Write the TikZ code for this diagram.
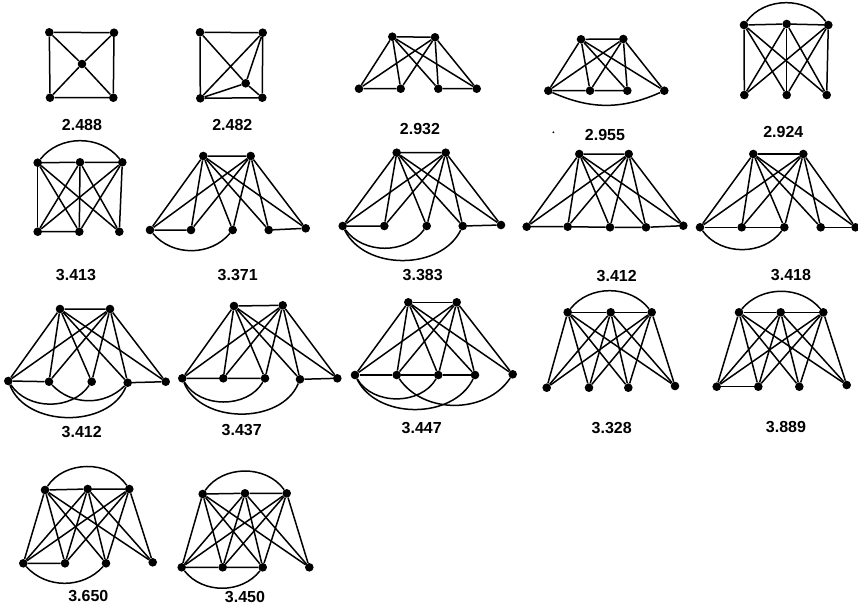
\documentclass[tikz,border=0pt]{standalone}
\usepackage{fontspec}
\setmainfont{Liberation Sans}
\begin{document}
\begin{tikzpicture}[x=1pt,y=1pt,
  v/.style={circle,fill=black,inner sep=0pt,minimum size=8.6pt},
  ed/.style={line width=1.5pt},
  lbl/.style={font=\fontsize{16}{18}\selectfont\bfseries,inner sep=0pt}]
\useasboundingbox (0,-611) rectangle (858,0);
% ---------- G1 2.488
\node[v] (a1) at (49.3,-32.3) {};
\node[v] (a2) at (114,-32.7) {};
\node[v] (a3) at (82,-64) {};
\node[v] (a4) at (50,-97.7) {};
\node[v] (a5) at (113.3,-97.7) {};
\draw[ed] (a1)--(a2) (a2)--(a5) (a5)--(a4) (a4)--(a1) (a1)--(a3) (a3)--(a5) (a2)--(a3) (a3)--(a4);
\node[lbl] (la) at (82,-125) {2.488};
% ---------- G2 2.482
\node[v] (b1) at (200,-32.3) {};
\node[v] (b2) at (262.7,-32.7) {};
\node[v] (b3) at (200.3,-98.3) {};
\node[v] (b4) at (262.3,-97.7) {};
\node[v] (b5) at (245.7,-83.3) {};
\draw[ed] (b1)--(b2) (b1)--(b3) (b2)--(b4) (b3)--(b4) (b1)--(b5) (b5)--(b4) (b2)--(b5) (b2)--(b3) (b3)--(b5);
\node[lbl] (lb) at (232.3,-125) {2.482};
% ---------- G3 2.932
\node[v] (c1) at (392.3,-36.7) {};
\node[v] (c2) at (435,-37.3) {};
\node[v] (cb1) at (359,-88.7) {};
\node[v] (cb2) at (400.7,-88.7) {};
\node[v] (cb3) at (438.3,-88.7) {};
\node[v] (cb4) at (476.7,-88.7) {};
\draw[ed] (c1)--(c2) (cb1)--(cb2) (cb3)--(cb4);
\foreach \t in {c1,c2} \foreach \b in {cb1,cb2,cb3,cb4} \draw[ed] (\t)--(\b);
\node[lbl] (lc) at (420,-129.3) {2.932};
% ---------- G4 2.955
\node[v] (d1) at (581,-39.3) {};
\node[v] (d2) at (623.3,-39) {};
\node[v] (db1) at (548.3,-90.7) {};
\node[v] (db2) at (590,-90.7) {};
\node[v] (db3) at (627.3,-90.7) {};
\node[v] (db4) at (664.3,-90.7) {};
\draw[ed] (d1)--(d2) (db1)--(db2) (db2)--(db3);
\draw[ed] (db1) to[bend right=24] (db4);
\foreach \t in {d1,d2} \foreach \b in {db1,db2,db3,db4} \draw[ed] (\t)--(\b);
\node[lbl] (ld) at (605,-135) {2.955};
\fill (553.3,-132.3) circle (1pt);
% ---------- G5 2.924
\node[v] (e1) at (744,-25) {};
\node[v] (e2) at (786.7,-24) {};
\node[v] (e3) at (828.3,-25) {};
\node[v] (eb1) at (744.3,-95) {};
\node[v] (eb2) at (786.7,-95) {};
\node[v] (eb3) at (826.7,-95) {};
\draw[ed] (e1)--(e2) (e2)--(e3);
\draw[ed] (e1) to[bend left=54] (e3);
\foreach \t in {e1,e2,e3} \foreach \b in {eb1,eb2,eb3} \draw[ed] (\t)--(\b);
\node[lbl] (le) at (783.3,-131.7) {2.924};
% ---------- G6 3.413
\node[v] (f1) at (37.7,-162.7) {};
\node[v] (f2) at (80,-162.3) {};
\node[v] (f3) at (122.3,-162.3) {};
\node[v] (fb1) at (37.7,-231.7) {};
\node[v] (fb2) at (79.3,-231.7) {};
\node[v] (fb3) at (119.3,-231.7) {};
\draw[ed] (f1)--(f2) (f2)--(f3) (fb1)--(fb2);
\draw[ed] (f1) to[bend left=52] (f3);
\foreach \t in {f1,f2,f3} \foreach \b in {fb1,fb2,fb3} \draw[ed] (\t)--(\b);
\node[lbl] (lf) at (76,-275) {3.413};
% ---------- G7 3.371
\node[v] (g1) at (203.3,-156) {};
\node[v] (g2) at (250.7,-156) {};
\node[v] (gb1) at (150,-230) {};
\node[v] (gb2) at (191,-230) {};
\node[v] (gb3) at (232.7,-230) {};
\node[v] (gb4) at (268.7,-230) {};
\node[v] (gb5) at (305.7,-228.3) {};
\draw[ed] (g1)--(g2) (gb1)--(gb2) (gb4)--(gb5);
\draw[ed] (gb1) to[bend right=50] (gb3);
\foreach \t in {g1,g2} \foreach \b in {gb1,gb2,gb3,gb4,gb5} \draw[ed] (\t)--(\b);
\node[lbl] (lg) at (237.7,-275) {3.371};
% ---------- G8 3.383
\node[v] (h1) at (396.7,-152.7) {};
\node[v] (h2) at (445.7,-152.7) {};
\node[v] (hb1) at (342.7,-226) {};
\node[v] (hb2) at (384.3,-226) {};
\node[v] (hb3) at (426.7,-226) {};
\node[v] (hb4) at (462.7,-226) {};
\node[v] (hb5) at (501,-225) {};
\draw[ed] (h1)--(h2) (hb1)--(hb2) (hb4)--(hb5);
\draw[ed] (hb1) to[bend right=54] (hb3);
\draw[ed] (hb1) to[bend right=64] (hb4);
\foreach \t in {h1,h2} \foreach \b in {hb1,hb2,hb3,hb4,hb5} \draw[ed] (\t)--(\b);
\node[lbl] (lh) at (422.7,-275) {3.383};
% ---------- G9 3.412
\node[v] (i1) at (579.3,-154) {};
\node[v] (i2) at (628.7,-154) {};
\node[v] (ib1) at (526.7,-226.7) {};
\node[v] (ib2) at (567.7,-226.7) {};
\node[v] (ib3) at (610,-227.3) {};
\node[v] (ib4) at (646,-227.3) {};
\node[v] (ib5) at (683.3,-225.7) {};
\draw[ed] (i1)--(i2) (ib1)--(ib2) (ib2)--(ib3) (ib3)--(ib4) (ib4)--(ib5);
\foreach \t in {i1,i2} \foreach \b in {ib1,ib2,ib3,ib4,ib5} \draw[ed] (\t)--(\b);
\node[lbl] (li) at (616.7,-276) {3.412};
% ---------- G10 3.418
\node[v] (j1) at (753.3,-154) {};
\node[v] (j2) at (803.3,-154) {};
\node[v] (jb1) at (700,-227.3) {};
\node[v] (jb2) at (741.7,-227.3) {};
\node[v] (jb3) at (784.3,-227.3) {};
\node[v] (jb4) at (820.7,-227.3) {};
\node[v] (jb5) at (855.5,-227.3) {};
\draw[ed] (j1)--(j2) (jb1)--(jb2) (jb2)--(jb3) (jb4)--(jb5);
\draw[ed] (jb1) to[bend right=54] (jb3);
\foreach \t in {j1,j2} \foreach \b in {jb1,jb2,jb3,jb4,jb5} \draw[ed] (\t)--(\b);
\node[lbl] (lj) at (791,-275) {3.418};
% ---------- G11 3.412
\node[v] (k1) at (60,-309) {};
\node[v] (k2) at (110,-309) {};
\node[v] (kb1) at (8.3,-381) {};
\node[v] (kb2) at (49,-381.7) {};
\node[v] (kb3) at (91.7,-381.7) {};
\node[v] (kb4) at (127.7,-382.7) {};
\node[v] (kb5) at (165.7,-381.7) {};
\draw[ed] (k1)--(k2) (kb1)--(kb2) (kb4)--(kb5);
\draw[ed] (kb1) to[bend right=56] (kb3);
\draw[ed] (kb2) to[bend right=46] (kb4);
\draw[ed] (kb1) to[bend right=68] (kb4);
\foreach \t in {k1,k2} \foreach \b in {kb1,kb2,kb3,kb4,kb5} \draw[ed] (\t)--(\b);
\node[lbl] (lk) at (81.7,-431.7) {3.412};
% ---------- G12 3.437
\node[v] (l1) at (234,-306) {};
\node[v] (l2) at (282.7,-305.3) {};
\node[v] (lb1) at (182.3,-378.3) {};
\node[v] (lb2) at (223.3,-378.3) {};
\node[v] (lb3) at (265,-378.3) {};
\node[v] (lb4) at (300,-379.3) {};
\node[v] (lb5) at (337.3,-378.3) {};
\draw[ed] (l1)--(l2) (lb1)--(lb2) (lb2)--(lb3) (lb4)--(lb5);
\draw[ed] (lb1) to[bend right=60] (lb3);
\draw[ed] (lb1) to[bend right=68] (lb4);
\foreach \t in {l1,l2} \foreach \b in {lb1,lb2,lb3,lb4,lb5} \draw[ed] (\t)--(\b);
\node[lbl] (ll) at (241.7,-430) {3.437};
% ---------- G13 3.447
\node[v] (m1) at (408.3,-302.3) {};
\node[v] (m2) at (456.7,-302.3) {};
\node[v] (mb1) at (355,-375) {};
\node[v] (mb2) at (396.7,-375) {};
\node[v] (mb3) at (438.3,-375) {};
\node[v] (mb4) at (475,-375) {};
\node[v] (mb5) at (512.7,-374.3) {};
\draw[ed] (m1)--(m2) (mb1)--(mb2) (mb2)--(mb3) (mb3)--(mb4);
\draw[ed] (mb1) to[bend right=60] (mb3);
\draw[ed] (mb1) to[bend right=64] (mb4);
\draw[ed] (mb2) to[bend right=56] (mb5);
\foreach \t in {m1,m2} \foreach \b in {mb1,mb2,mb3,mb4,mb5} \draw[ed] (\t)--(\b);
\node[lbl] (lm) at (421.7,-428.3) {3.447};
% ---------- G14 3.328
\node[v] (n1) at (567.7,-312.3) {};
\node[v] (n2) at (610.7,-312.3) {};
\node[v] (n3) at (651.7,-312.3) {};
\node[v] (nb1) at (546.7,-387.7) {};
\node[v] (nb2) at (589,-387.7) {};
\node[v] (nb3) at (628.3,-387.7) {};
\node[v] (nb4) at (675,-386) {};
\draw[ed] (n1)--(n2) (n2)--(n3);
\draw[ed] (n1) to[bend left=52] (n3);
\foreach \t in {n1,n2,n3} \foreach \b in {nb1,nb2,nb3,nb4} \draw[ed] (\t)--(\b);
\node[lbl] (ln) at (611.7,-428.3) {3.328};
% ---------- G15 3.889
\node[v] (o1) at (739,-312.3) {};
\node[v] (o2) at (780.7,-312.3) {};
\node[v] (o3) at (823.3,-312.3) {};
\node[v] (ob1) at (716.7,-386.7) {};
\node[v] (ob2) at (758.3,-386.7) {};
\node[v] (ob3) at (799.3,-386.7) {};
\node[v] (ob4) at (846.7,-385) {};
\draw[ed] (o1)--(o2) (o2)--(o3) (ob1)--(ob2);
\draw[ed] (o1) to[bend left=50] (o3);
\foreach \t in {o1,o2,o3} \foreach \b in {ob1,ob2,ob3,ob4} \draw[ed] (\t)--(\b);
\node[lbl] (lo) at (786,-426.7) {3.889};
% ---------- G16 3.650
\node[v] (p1) at (45,-490) {};
\node[v] (p2) at (87.7,-489) {};
\node[v] (p3) at (129.3,-489) {};
\node[v] (pb1) at (23.3,-563.3) {};
\node[v] (pb2) at (65,-563.3) {};
\node[v] (pb3) at (106,-563.3) {};
\node[v] (pb4) at (152.7,-562.3) {};
\draw[ed] (p1)--(p2) (p2)--(p3) (pb1)--(pb2);
\draw[ed] (p1) to[bend left=56] (p3);
\draw[ed] (pb1) to[bend right=48] (pb3);
\foreach \t in {p1,p2,p3} \foreach \b in {pb1,pb2,pb3,pb4} \draw[ed] (\t)--(\b);
\node[lbl] (lp) at (88.3,-595.7) {3.650};
% ---------- G17 3.450
\node[v] (q1) at (202.7,-494) {};
\node[v] (q2) at (245,-493.3) {};
\node[v] (q3) at (286.7,-493.3) {};
\node[v] (qb1) at (181.7,-567.3) {};
\node[v] (qb2) at (222.7,-567.3) {};
\node[v] (qb3) at (262.7,-567.3) {};
\node[v] (qb4) at (309.3,-567.3) {};
\draw[ed] (q1)--(q2) (q2)--(q3) (qb1)--(qb2) (qb2)--(qb3);
\draw[ed] (q1) to[bend left=55] (q3);
\draw[ed] (qb1) to[bend right=52] (qb3);
\foreach \t in {q1,q2,q3} \foreach \b in {qb1,qb2,qb3,qb4} \draw[ed] (\t)--(\b);
\node[lbl] (lq) at (245,-596.7) {3.450};
\end{tikzpicture}
\end{document}
